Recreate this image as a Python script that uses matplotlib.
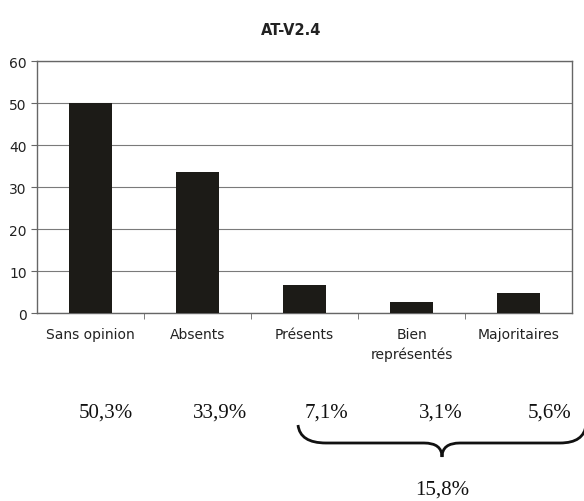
import matplotlib.pyplot as plt
from matplotlib.path import Path
from matplotlib.patches import PathPatch

categories = ['Sans opinion', 'Absents', 'Présents', 'Bien\nreprésentés', 'Majoritaires']
values = [50, 33.5, 6.7, 2.6, 4.8]
percent_labels = ['50,3%', '33,9%', '7,1%', '3,1%', '5,6%']
total_label = '15,8%'
yticks = [0, 10, 20, 30, 40, 50, 60]

fig = plt.figure(figsize=(5.84, 5.02), dpi=100)
ax = fig.add_axes([37/584, 1 - 314/502, 535/584, 252/502])

x = range(len(categories))
ax.bar(x, values, width=0.41, color='#1c1b17', zorder=3)
ax.set_xlim(-0.5, len(categories) - 0.5)
ax.set_ylim(0, 60)
ax.set_yticks(yticks)
ax.yaxis.grid(True, color='#7a7a7a', linewidth=0.8, zorder=0)
ax.set_xticks(list(x))
ax.set_xticklabels(categories, fontsize=10, family='DejaVu Sans', color='#222222',
                   linespacing=1.5)
ax.tick_params(axis='x', length=0, pad=10)
ax.set_xticks([i + 0.5 for i in range(len(categories) - 1)], minor=True)
ax.tick_params(axis='x', which='minor', length=4, color='#666666')
ax.tick_params(axis='y', length=4, color='#666666', labelsize=10, colors='#222222')
for s in ax.spines.values():
    s.set_color('#666666')
    s.set_linewidth(1.0)

fig.text(291/584, 1 - 31/502, 'AT-V2.4', ha='center', va='center',
         fontsize=10.5, fontweight='bold', family='DejaVu Sans', color='#222222')

# overlay in pixel coordinates for the annotations below the chart
ov = fig.add_axes([0, 0, 1, 1], facecolor='none')
ov.set_xlim(0, 584)
ov.set_ylim(502, 0)
ov.axis('off')

label_x = [106, 220, 327, 441, 550]
for lx, lab in zip(label_x, percent_labels):
    ov.text(lx, 413, lab, ha='center', va='center', fontsize=15,
            family='Liberation Serif', color='#111111')
ov.text(442, 490, total_label, ha='center', va='center', fontsize=15,
        family='Liberation Serif', color='#111111')

verts = [(298, 426), (300, 444), (326, 444),
         (424, 444), (442, 444), (442, 458),
         (442, 444), (460, 444),
         (560, 444), (584, 444), (586, 426)]
codes = [Path.MOVETO, Path.CURVE3, Path.CURVE3,
         Path.LINETO, Path.CURVE3, Path.CURVE3,
         Path.CURVE3, Path.CURVE3,
         Path.LINETO, Path.CURVE3, Path.CURVE3]
ov.add_patch(PathPatch(Path(verts, codes), facecolor='none', edgecolor='#111111',
                       linewidth=2.0, clip_on=False))

fig.savefig('out.png', dpi=100)
